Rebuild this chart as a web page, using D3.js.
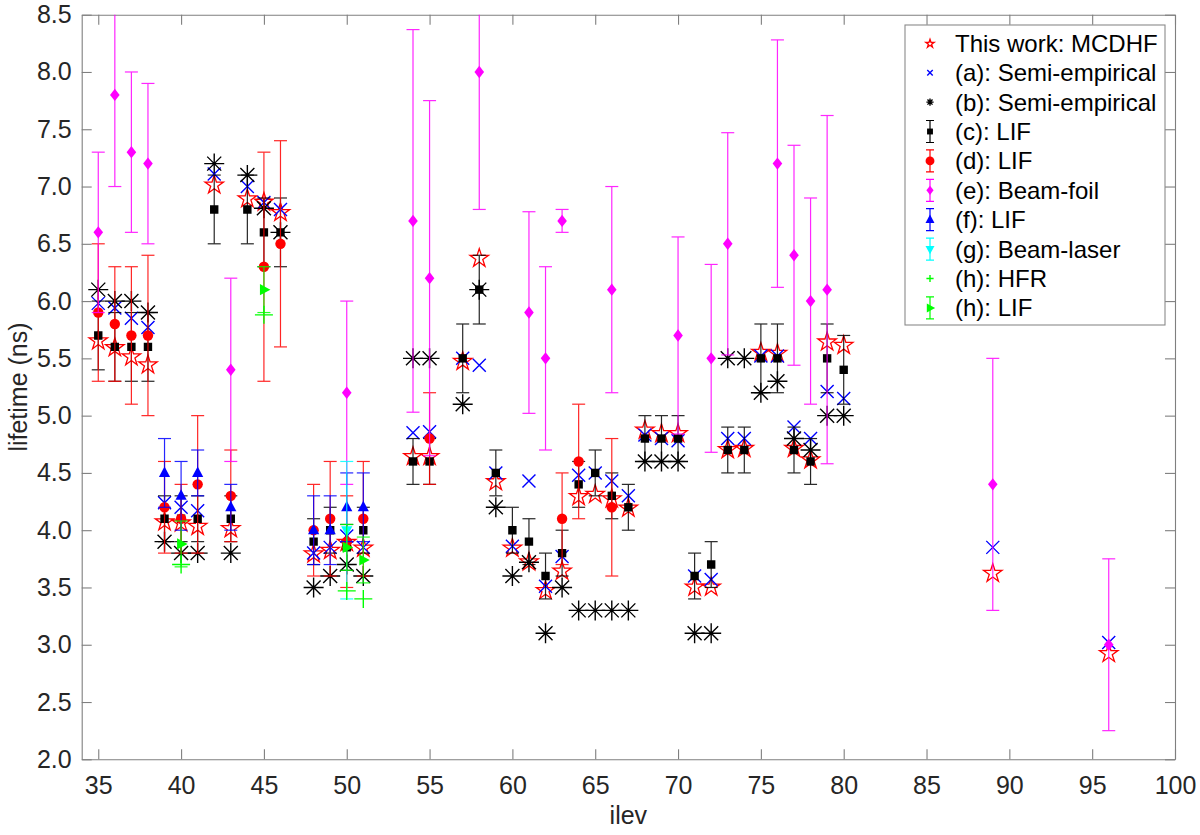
<!DOCTYPE html>
<html lang="en">
  <head>
    <meta charset="UTF-8" />
    <title>Lifetimes vs ilev</title>
    <script src="https://d3js.org/d3.v7.min.js"></script>
    <style>
      html,
      body {
        margin: 0;
        background: #fff;
      }
      svg {
        display: block;
        font-family: "Liberation Sans", Arial, sans-serif;
      }
      .axis .tick text {
        fill: #262626;
        font-size: 25px;
      }
      .axis path,
      .axis line {
        stroke: #7f7f7f;
        stroke-width: 1.1;
      }
    </style>
  </head>
  <body>
    <svg id="chart" width="1200" height="835"></svg>

    <script>
      // This work: MCDHF
      const ilevMCDHF = [35, 36, 37, 38, 39, 40, 41, 42, 43, 44, 45, 46, 48, 49, 50, 51, 54, 55, 57, 58, 59, 60, 61, 62, 63, 64, 65, 66, 67, 68, 69, 70, 71, 72, 73, 74, 75, 76, 77, 78, 79, 80, 89, 96];
      const tauMCDHF = [5.66, 5.6, 5.52, 5.45, 4.08, 4.07, 4.04, 7.02, 4.02, 6.9, 6.87, 6.78, 3.8, 3.83, 3.9, 3.85, 4.65, 4.65, 5.48, 6.38, 4.43, 3.85, 3.73, 3.48, 3.65, 4.3, 4.32, 4.28, 4.2, 4.88, 4.85, 4.85, 3.51, 3.51, 4.71, 4.72, 5.56, 5.55, 4.72, 4.62, 5.65, 5.62, 3.63, 2.93];

      // (a) semi-empirical
      const ilevA = [35, 36, 37, 38, 39, 40, 41, 42, 44, 45, 46, 48, 49, 50, 51, 54, 55, 57, 58, 59, 60, 61, 62, 63, 64, 65, 66, 67, 68, 69, 70, 71, 72, 73, 74, 75, 76, 77, 78, 79, 80, 89, 96];
      const tauA = [5.98, 5.94, 5.85, 5.77, 4.24, 4.2, 4.17, 7.11, 7.0, 6.86, 6.8, 3.8, 3.85, 3.95, 3.85, 4.85, 4.86, 5.5, 5.44, 4.5, 3.86, 4.43, 3.51, 3.77, 4.48, 4.5, 4.43, 4.3, 4.83, 4.8, 4.78, 3.6, 3.57, 4.8, 4.8, 5.52, 5.52, 4.9, 4.8, 5.21, 5.15, 3.85, 3.02];

      // (b) semi-empirical
      const ilevB = [35, 36, 37, 38, 39, 40, 41, 42, 43, 44, 45, 46, 48, 49, 50, 51, 54, 55, 57, 58, 59, 60, 61, 62, 63, 64, 65, 66, 67, 68, 69, 70, 71, 72, 73, 74, 75, 76, 77, 78, 79, 80];
      const tauB = [6.1, 6.0, 6.0, 5.9, 3.9, 3.8, 3.8, 7.2, 3.8, 7.1, 6.81, 6.6, 3.5, 3.6, 3.7, 3.6, 5.5, 5.5, 5.1, 6.1, 4.2, 3.6, 3.72, 3.1, 3.5, 3.3, 3.3, 3.3, 3.3, 4.6, 4.6, 4.6, 3.1, 3.1, 5.5, 5.5, 5.2, 5.3, 4.8, 4.7, 5.0, 5.0];

      // (c) LIF
      const ilevC = [35, 36, 37, 38, 39, 40, 41, 42, 43, 44, 45, 46, 48, 49, 50, 51, 54, 55, 57, 58, 59, 60, 61, 62, 63, 64, 65, 66, 67, 68, 69, 70, 71, 72, 73, 74, 75, 76, 77, 78, 79, 80];
      const tauC = [5.7, 5.6, 5.6, 5.6, 4.1, 4.1, 4.1, 6.8, 4.1, 6.8, 6.6, 6.6, 3.9, 4.0, 3.85, 4.0, 4.6, 4.6, 5.5, 6.1, 4.5, 4.0, 3.9, 3.6, 3.8, 4.4, 4.5, 4.3, 4.2, 4.8, 4.8, 4.8, 3.6, 3.7, 4.7, 4.7, 5.5, 5.5, 4.7, 4.6, 5.5, 5.4];
      const errC = [0.3, 0.3, 0.3, 0.3, 0.2, 0.2, 0.2, 0.3, 0.2, 0.3, 0.3, 0.3, 0.2, 0.2, 0.2, 0.2, 0.2, 0.2, 0.3, 0.3, 0.2, 0.2, 0.2, 0.2, 0.2, 0.2, 0.2, 0.2, 0.2, 0.2, 0.2, 0.2, 0.2, 0.2, 0.2, 0.2, 0.3, 0.3, 0.2, 0.2, 0.3, 0.3];

      // (d) LIF
      const ilevD = [35, 36, 37, 38, 39, 40, 41, 43, 45, 46, 48, 49, 50, 51, 55, 63, 64, 66];
      const tauD = [5.9, 5.8, 5.7, 5.7, 4.2, 4.1, 4.4, 4.3, 6.3, 6.5, 4.0, 4.1, 3.9, 4.1, 4.8, 4.1, 4.6, 4.2];
      const errD = [0.6, 0.5, 0.6, 0.7, 0.4, 0.3, 0.6, 0.4, 1.0, 0.9, 0.4, 0.5, 0.4, 0.5, 0.4, 0.4, 0.5, 0.6];

      // (e) beam-foil
      const ilevE = [35, 36, 37, 38, 43, 50, 54, 55, 58, 61, 62, 63, 66, 70, 72, 73, 76, 77, 78, 79, 89, 96];
      const tauE = [6.6, 7.8, 7.3, 7.2, 5.4, 5.2, 6.7, 6.2, 8.0, 5.9, 5.5, 6.7, 6.1, 5.7, 5.5, 6.5, 7.2, 6.4, 6.0, 6.1, 4.4, 3.0];
      const errE = [0.7, 0.8, 0.7, 0.7, 0.8, 0.8, 1.67, 1.55, 1.2, 0.88, 0.8, 0.1, 0.9, 0.86, 0.82, 0.97, 1.08, 0.96, 0.9, 1.52, 1.1, 0.75];

      // (f) LIF
      const ilevF = [39, 40, 41, 43, 48, 49, 50, 51];
      const tauF = [4.5, 4.3, 4.5, 4.2, 4.0, 4.0, 4.2, 4.2];
      const errF = [0.3, 0.3, 0.2, 0.2, 0.3, 0.3, 0.3, 0.3];

      // (g) beam-laser
      const ilevG = [50];
      const tauG = [4.0];
      const errG = [0.6];

      // (h) HFR
      const ilevHFR = [40, 45, 50, 51];
      const tauHFR = [3.7, 5.88, 3.47, 3.4];

      // (h) LIF
      const ilevHLIF = [40, 45, 50, 51];
      const tauHLIF = [3.88, 6.1, 3.85, 3.74];
      const errHLIF = [0.2, 0.2, 0.2, 0.2];

      const xTicks = [35, 40, 45, 50, 55, 60, 65, 70, 75, 80, 85, 90, 95, 100];
      const yTicks = [2.0, 2.5, 3.0, 3.5, 4.0, 4.5, 5.0, 5.5, 6.0, 6.5, 7.0, 7.5, 8.0, 8.5];

      // series in plotting order (later ones on top)
      const series = [
        { label: "This work: MCDHF", ilev: ilevMCDHF, tau: tauMCDHF, color: "#ff0000", marker: "star", lk: 0.45 },
        { label: "(a): Semi-empirical", ilev: ilevA, tau: tauA, color: "#0000ff", marker: "x", lk: 0.42 },
        { label: "(b): Semi-empirical", ilev: ilevB, tau: tauB, color: "#000000", marker: "asterisk", lk: 0.36 },
        { label: "(c): LIF", ilev: ilevC, tau: tauC, err: errC, color: "#000000", marker: "square", lk: 0.7 },
        { label: "(d): LIF", ilev: ilevD, tau: tauD, err: errD, color: "#ff0000", marker: "circle", lk: 0.85 },
        { label: "(e): Beam-foil", ilev: ilevE, tau: tauE, err: errE, color: "#ff00ff", marker: "diamond", lk: 0.75 },
        { label: "(f): LIF", ilev: ilevF, tau: tauF, err: errF, color: "#0000ff", marker: "triUp", lk: 0.8 },
        { label: "(g): Beam-laser", ilev: ilevG, tau: tauG, err: errG, color: "#00ffff", marker: "triDown", lk: 0.8 },
        { label: "(h): HFR", ilev: ilevHFR, tau: tauHFR, color: "#00ff00", marker: "plus", lk: 0.4 },
        { label: "(h): LIF", ilev: ilevHLIF, tau: tauHLIF, err: errHLIF, color: "#00ff00", marker: "triRight", lk: 0.8 },
      ];

      const plot = { left: 81.7, right: 1175, top: 14.7, bottom: 759.3 };

      const x = d3.scaleLinear().domain([34, 100]).range([plot.left, plot.right]);
      const y = d3.scaleLinear().domain([2, 8.5]).range([plot.bottom, plot.top]);

      const svg = d3.select("#chart");

      svg
        .append("defs")
        .append("clipPath")
        .attr("id", "plot-clip")
        .append("rect")
        .attr("x", plot.left)
        .attr("y", plot.top)
        .attr("width", plot.right - plot.left)
        .attr("height", plot.bottom - plot.top);

      // marker shapes, k scales them (legend uses smaller ones)
      function markerD(type, k) {
        if (type === "star") {
          const R = 9.7 * k,
            r = R * 0.382;
          const pts = d3.range(10).map((i) => {
            const a = -Math.PI / 2 + (i * Math.PI) / 5;
            const rr = i % 2 ? r : R;
            return [rr * Math.cos(a), rr * Math.sin(a) + 0.8 * k];
          });
          return "M" + pts.map((p) => p.join(",")).join("L") + "Z";
        }
        if (type === "x") {
          const s = 6.5 * k;
          return `M${-s},${-s}L${s},${s}M${-s},${s}L${s},${-s}`;
        }
        if (type === "asterisk") {
          const s = 10 * k,
            d = 7 * k;
          return `M${-s},0H${s}M0,${-s}V${s}M${-d},${-d}L${d},${d}M${-d},${d}L${d},${-d}`;
        }
        if (type === "square") {
          const h = 4.2 * k;
          return `M${-h},${-h}H${h}V${h}H${-h}Z`;
        }
        if (type === "circle") {
          const r = 5.2 * k;
          return `M${-r},0A${r},${r} 0 1,0 ${r},0A${r},${r} 0 1,0 ${-r},0Z`;
        }
        if (type === "diamond") {
          const w = 4.8 * k,
            h = 6.2 * k;
          return `M0,${-h}L${w},0L0,${h}L${-w},0Z`;
        }
        if (type === "triUp") {
          const w = 5.6 * k;
          return `M0,${-6.5 * k}L${w},${4 * k}L${-w},${4 * k}Z`;
        }
        if (type === "triDown") {
          const w = 5.6 * k;
          return `M0,${6.5 * k}L${w},${-4 * k}L${-w},${-4 * k}Z`;
        }
        if (type === "triRight") {
          const h = 5.6 * k;
          return `M${6.5 * k},0L${-4 * k},${h}L${-4 * k},${-h}Z`;
        }
        if (type === "plus") {
          const s = 9 * k;
          return `M${-s},0H${s}M0,${-s}V${s}`;
        }
        return "";
      }

      const outlined = ["star", "x", "asterisk", "plus"];

      function styleMarker(sel, s) {
        if (outlined.includes(s.marker)) {
          sel.attr("fill", "none").attr("stroke", s.color).attr("stroke-width", s.marker === "star" ? 1.3 : 1.4);
        } else {
          sel.attr("fill", s.color).attr("stroke", "none");
        }
      }

      // axes (box with inward ticks on all sides)
      svg
        .append("g")
        .attr("class", "axis")
        .attr("transform", `translate(0,${plot.bottom})`)
        .call(d3.axisBottom(x).tickValues(xTicks).tickSizeInner(-10).tickSizeOuter(0).tickPadding(17))
        .call((g) => g.selectAll("text").attr("font-family", null));

      svg
        .append("g")
        .attr("class", "axis")
        .attr("transform", `translate(0,${plot.top})`)
        .call(d3.axisTop(x).tickValues(xTicks).tickSizeInner(-10).tickSizeOuter(0).tickFormat(""));

      svg
        .append("g")
        .attr("class", "axis")
        .attr("transform", `translate(${plot.left},0)`)
        .call(d3.axisLeft(y).tickValues(yTicks).tickSizeInner(-10).tickSizeOuter(0).tickPadding(10).tickFormat(d3.format(".1f")));

      svg
        .append("g")
        .attr("class", "axis")
        .attr("transform", `translate(${plot.right},0)`)
        .call(d3.axisRight(y).tickValues(yTicks).tickSizeInner(-10).tickSizeOuter(0).tickFormat(""));

      svg.selectAll(".axis text").attr("font-family", null);

      // axis labels
      svg
        .append("text")
        .attr("x", (plot.left + plot.right) / 2)
        .attr("y", 824)
        .attr("text-anchor", "middle")
        .attr("fill", "#262626")
        .attr("font-size", 25)
        .text("ilev");

      svg
        .append("text")
        .attr("transform", `translate(27,${(plot.top + plot.bottom) / 2}) rotate(-90)`)
        .attr("text-anchor", "middle")
        .attr("fill", "#262626")
        .attr("font-size", 25)
        .text("lifetime (ns)");

      // data
      const plotArea = svg.append("g").attr("clip-path", "url(#plot-clip)");
      const capW = 6.5;

      series.forEach((s) => {
        const pts = s.ilev.map((v, i) => ({ ilev: v, tau: s.tau[i], err: s.err ? s.err[i] : null }));
        const g = plotArea.append("g");

        if (s.err) {
          const eb = g
            .selectAll("g.eb")
            .data(pts)
            .join("g")
            .attr("class", "eb")
            .attr("stroke", s.color)
            .attr("stroke-width", 1.2)
            .attr("opacity", 0.85);
          eb.append("line")
            .attr("x1", (d) => x(d.ilev))
            .attr("x2", (d) => x(d.ilev))
            .attr("y1", (d) => y(d.tau - d.err))
            .attr("y2", (d) => y(d.tau + d.err));
          eb.append("line")
            .attr("x1", (d) => x(d.ilev) - capW)
            .attr("x2", (d) => x(d.ilev) + capW)
            .attr("y1", (d) => y(d.tau - d.err))
            .attr("y2", (d) => y(d.tau - d.err));
          eb.append("line")
            .attr("x1", (d) => x(d.ilev) - capW)
            .attr("x2", (d) => x(d.ilev) + capW)
            .attr("y1", (d) => y(d.tau + d.err))
            .attr("y2", (d) => y(d.tau + d.err));
        }

        g.selectAll("path.mk")
          .data(pts)
          .join("path")
          .attr("class", "mk")
          .attr("d", markerD(s.marker, 1))
          .attr("transform", (d) => `translate(${x(d.ilev)},${y(d.tau)})`)
          .call(styleMarker, s);
      });

      // legend
      const legend = { x: 905, y: 25, w: 260, h: 300, row0: 43.3, step: 29.4, mx: 930, tx: 955 };
      const lg = svg.append("g");
      lg.append("rect")
        .attr("x", legend.x)
        .attr("y", legend.y)
        .attr("width", legend.w)
        .attr("height", legend.h)
        .attr("fill", "#fff")
        .attr("stroke", "#8a8a8a")
        .attr("stroke-width", 1.1);

      series.forEach((s, i) => {
        const cy = legend.row0 + i * legend.step;
        const row = lg.append("g").attr("transform", `translate(${legend.mx},${cy})`);
        if (s.err) {
          row.append("path")
            .attr("d", "M0,-11V11M-4,-11H4M-4,11H4")
            .attr("stroke", s.color)
            .attr("stroke-width", 1.2)
            .attr("fill", "none");
        }
        row.append("path").attr("d", markerD(s.marker, s.lk)).call(styleMarker, s);
        lg.append("text")
          .attr("x", legend.tx)
          .attr("y", cy + 8.5)
          .attr("font-size", 24)
          .attr("fill", "#000")
          .text(s.label);
      });
    </script>
  </body>
</html>
